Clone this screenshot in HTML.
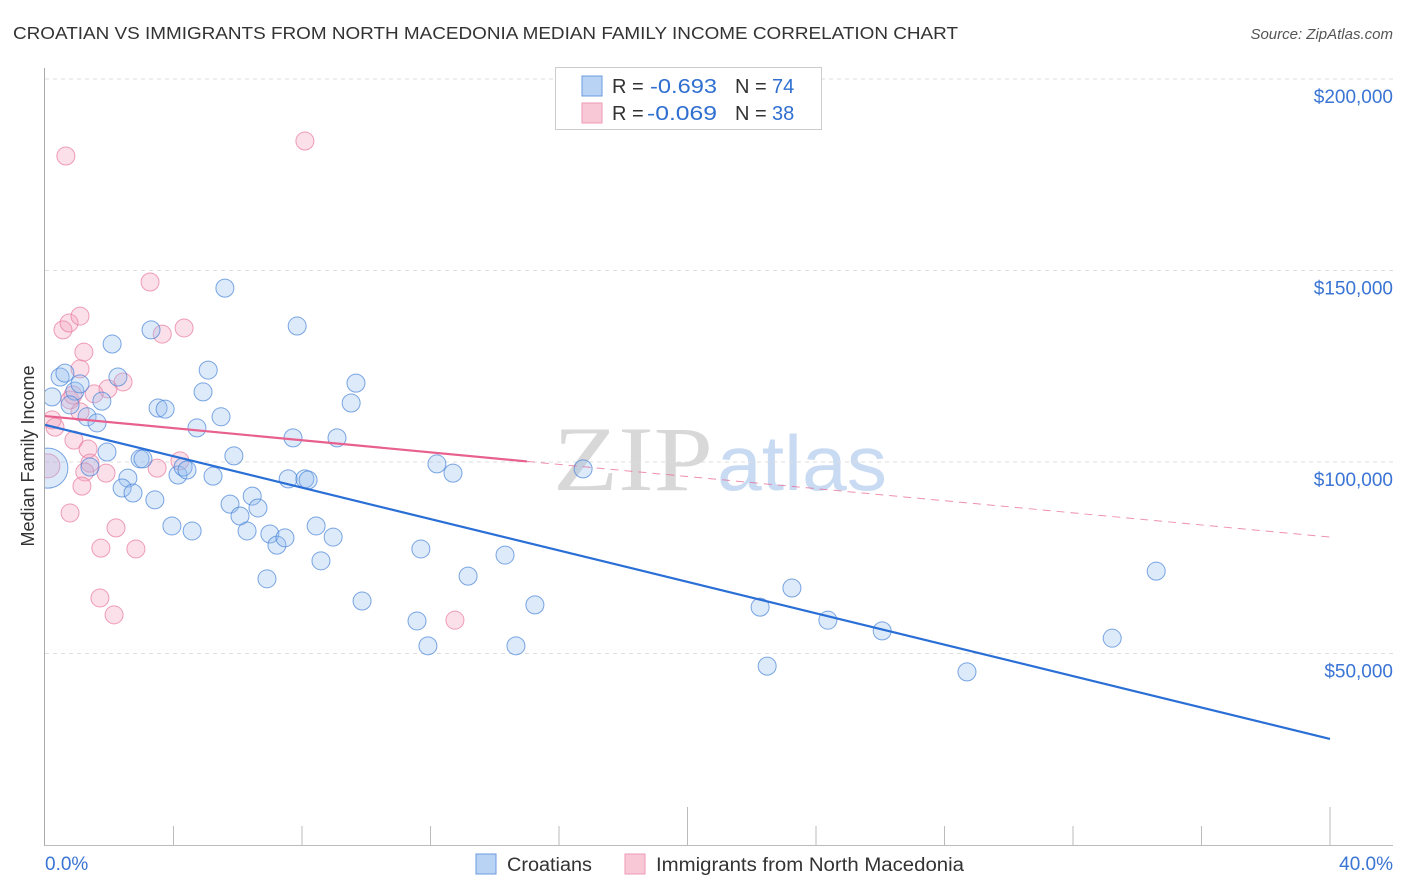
<!DOCTYPE html>
<html><head><meta charset="utf-8">
<style>
html,body{margin:0;padding:0;background:#fff;}
svg{display:block;font-family:"Liberation Sans",sans-serif;}
</style></head>
<body>
<svg id="chart" width="1406" height="892" viewBox="0 0 1406 892" xmlns="http://www.w3.org/2000/svg">
<defs><clipPath id="plotclip"><rect x="45" y="60" width="1360" height="786"/></clipPath></defs>
<text x="13" y="39" font-size="17.5" fill="#333" textLength="945" lengthAdjust="spacingAndGlyphs">CROATIAN VS IMMIGRANTS FROM NORTH MACEDONIA MEDIAN FAMILY INCOME CORRELATION CHART</text>
<text x="1393" y="39" font-size="15" fill="#555" font-style="italic" text-anchor="end">Source: ZipAtlas.com</text>
<g>
<text x="553" y="490" font-size="92" fill="#d8d8d8" font-family="Liberation Serif,serif" textLength="160" lengthAdjust="spacingAndGlyphs">ZIP</text>
<text x="717" y="490" font-size="78" fill="#c9dbf3" textLength="170" lengthAdjust="spacingAndGlyphs">atlas</text>
</g>
<g id="grid"></g>
<g id="axes"></g>
<g id="marks" clip-path="url(#plotclip)"></g>
<text transform="translate(34,456) rotate(-90)" font-size="18" fill="#333" text-anchor="middle">Median Family Income</text>
<g>
<rect x="555.5" y="67.5" width="266" height="62" fill="#fff" stroke="#ccc"/>
<rect x="582" y="76" width="20" height="20" fill="#b9d3f5" stroke="#6a9be0"/>
<text x="612" y="93" font-size="20" fill="#333">R =</text>
<text x="650" y="93" font-size="20" fill="#2f6fd0" textLength="67" lengthAdjust="spacingAndGlyphs">-0.693</text>
<text x="735" y="93" font-size="20" fill="#333">N =</text>
<text x="772" y="93" font-size="20" fill="#2f6fd0">74</text>
<rect x="582" y="103" width="20" height="20" fill="#f8c8d6" stroke="#ee9ab4"/>
<text x="612" y="120" font-size="20" fill="#333">R =</text>
<text x="647" y="120" font-size="20" fill="#2f6fd0" textLength="70" lengthAdjust="spacingAndGlyphs">-0.069</text>
<text x="735" y="120" font-size="20" fill="#333">N =</text>
<text x="772" y="120" font-size="20" fill="#2f6fd0">38</text>
</g>
<g>
<rect x="476" y="854" width="20" height="20" fill="#b9d3f5" stroke="#6a9be0"/>
<text x="507" y="871" font-size="19" fill="#333" textLength="85" lengthAdjust="spacingAndGlyphs">Croatians</text>
<rect x="625" y="854" width="20" height="20" fill="#f8c8d6" stroke="#ee9ab4"/>
<text x="656" y="871" font-size="19" fill="#333" textLength="308" lengthAdjust="spacingAndGlyphs">Immigrants from North Macedonia</text>
</g>
</svg>
<script>
const blueX=[0.09,0.47,0.62,0.22,0.93,1.09,0.78,1.31,1.62,1.77,2.09,2.27,1.93,1.40,2.58,2.40,2.74,2.96,3.05,3.30,3.42,3.52,3.74,3.95,4.14,4.30,4.42,4.58,4.73,4.92,5.08,5.23,5.48,5.60,5.88,5.76,6.07,6.29,6.45,6.63,6.91,7.00,7.22,7.47,7.57,7.72,7.85,8.09,8.19,8.44,8.59,8.97,9.09,9.53,9.68,9.87,11.58,11.70,11.92,12.20,12.70,13.17,14.32,14.66,15.25,16.75,22.26,22.48,23.25,24.37,26.06,28.70,33.22,34.59];
const blueY=[98.4,122.2,123.2,117.0,118.5,120.4,114.9,111.8,110.2,115.9,130.8,122.2,102.6,98.7,95.8,93.2,91.9,100.8,100.8,134.5,90.1,114.1,113.8,83.3,96.6,98.7,97.9,82.0,108.9,118.3,124.0,96.3,111.8,145.4,101.6,89.0,85.9,82.0,91.1,88.0,69.5,81.2,78.3,80.2,95.6,106.3,135.5,95.6,95.3,83.3,74.2,80.4,106.3,115.4,120.6,63.7,58.5,77.3,52.0,99.5,97.1,70.2,75.7,52.0,62.7,98.2,62.1,46.7,67.1,58.7,55.9,45.2,54.0,71.5];
const pinkX=[0.09,0.22,0.31,0.65,0.56,0.75,1.09,0.78,0.87,1.09,1.21,1.09,0.90,1.34,1.40,1.24,1.15,0.78,1.74,1.71,1.90,1.96,2.21,2.15,2.43,1.53,2.83,3.27,3.49,3.65,4.33,4.20,8.09,12.76];
const pinkY=[99.0,111.0,109.1,179.9,134.5,136.3,138.1,116.2,117.5,113.1,128.7,124.3,105.7,103.4,99.7,97.4,93.7,86.7,77.5,64.5,97.1,119.1,82.8,60.1,120.9,117.8,77.3,147.0,98.4,133.4,135.0,100.3,183.8,58.7];
const blueTrend=[109.7,27.7];
const pinkTrend=[112.0,80.4];
const pinkSolidEnd=15.0;
const yTicks=[50,100,150,200];
const yTickLabels=["$50,000","$100,000","$150,000","$200,000"];
const xTicks=[0,4,8,12,16,20,24,28,32,36,40];

const NS="http://www.w3.org/2000/svg";
const X0=45,X1=1330,XMAX=40,Y0=845,YPX=191.5/50;
function sx(v){return X0+(v/XMAX)*(X1-X0);}
function sy(v){return Y0-v*YPX;}
function mk(tag,attrs,parent){const e=document.createElementNS(NS,tag);for(const k in attrs)e.setAttribute(k,attrs[k]);parent.appendChild(e);return e;}
const grid=document.getElementById('grid'),axes=document.getElementById('axes'),marks=document.getElementById('marks');
yTicks.forEach((t,i)=>{
  const l=mk('line',{x1:45,x2:1393,y1:sy(t),y2:sy(t),stroke:'#ddd','stroke-dasharray':'4,4'},grid);
  
  
  const tx=mk('text',{x:1393,y:sy(t)+24,'font-size':19,fill:'#3a74d4','text-anchor':'end'},axes);
  tx.textContent=yTickLabels[i];
  
  
});
const ya=mk('line',{x1:44.5,x2:44.5,y1:68,y2:845,stroke:'#aaa'},axes);


const xa=mk('line',{x1:44,x2:1393,y1:845.5,y2:845.5,stroke:'#bbb'},axes);


xTicks.forEach(t=>{
  if(t===0)return;
  const big=(t%20===0);
  const l=mk('line',{x1:sx(t),x2:sx(t),y1:big?807:826,y2:845,stroke:'#bbb'},axes);
  
  
});
const xl0=mk('text',{x:45,y:870,'font-size':19,fill:'#3a74d4'},axes);xl0.textContent='0.0%';


const xl1=mk('text',{x:1393,y:870,'font-size':19,fill:'#3a74d4','text-anchor':'end'},axes);xl1.textContent='40.0%';



pinkX.forEach((x,i)=>{
  const c=mk('circle',{cx:sx(x),cy:sy(pinkY[i]),r:i===0?12:9,fill:'rgba(244,160,186,0.32)',stroke:'rgba(232,120,155,0.7)','stroke-width':1},marks);
  
  
});
blueX.forEach((x,i)=>{
  const c=mk('circle',{cx:sx(x),cy:sy(blueY[i]),r:i===0?20:9,fill:'rgba(150,190,240,0.32)',stroke:'rgba(70,130,215,0.7)','stroke-width':1},marks);
  
  
});
function at(tr,x){return tr[0]+(tr[1]-tr[0])*x/XMAX;}
const bt=mk('line',{x1:sx(0),y1:sy(blueTrend[0]),x2:sx(40),y2:sy(blueTrend[1]),stroke:'#2a6fd6','stroke-width':2.2},marks);


const pt=mk('line',{x1:sx(0),y1:sy(pinkTrend[0]),x2:sx(pinkSolidEnd),y2:sy(at(pinkTrend,pinkSolidEnd)),stroke:'#e8608e','stroke-width':2.2},marks);


const pd=mk('line',{x1:sx(pinkSolidEnd),y1:sy(at(pinkTrend,pinkSolidEnd)),x2:sx(40),y2:sy(pinkTrend[1]),stroke:'#e8608e','stroke-width':1,'stroke-dasharray':'8,6',opacity:0.7},marks);


</script>
</body></html>
